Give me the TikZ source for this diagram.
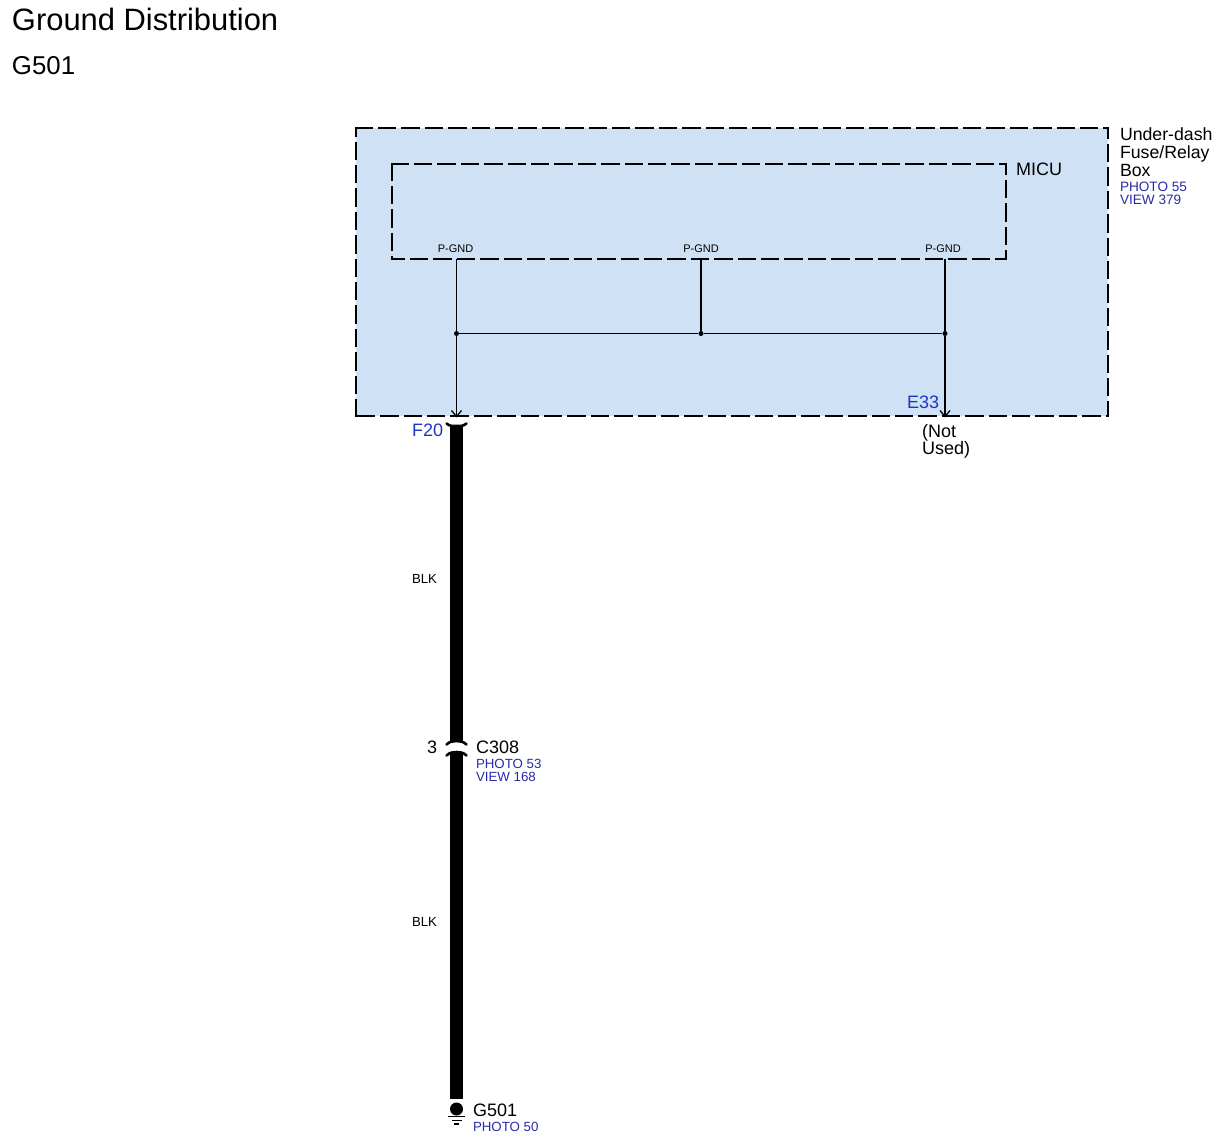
\documentclass[tikz,border=0pt]{standalone}
\usepackage{fontspec}
\setmainfont{Liberation Sans}
\definecolor{boxfill}{HTML}{CFE2F5}
\definecolor{photoblue}{HTML}{2A2AA8}
\definecolor{pinblue}{HTML}{1F35C0}
\newcommand{\fsz}[1]{\fontsize{#1}{#1}\selectfont}
\tikzset{
  dashbox/.style={draw=black,line width=2.8pt,dash pattern=on 18.4pt off 5pt,shorten <=-1.4pt,shorten >=-1.4pt},
  wire/.style={draw=black,line width=1.3pt},
  thickwire/.style={draw=black,line width=13pt},
  lbl/.style={inner sep=0pt,outer sep=0pt,anchor=base west,align=left},
  captxt/.style={lbl,font=\fsz{17.7}},
  photo/.style={lbl,font=\fsz{13.3},text=photoblue},
  pgnd/.style={inner sep=0pt,anchor=base,font=\fsz{11}},
  blk/.style={inner sep=0pt,anchor=base,font=\fsz{13.2}},
  pintxt/.style={lbl,font=\fsz{18},text=pinblue},
  dark/.style={lbl,font=\fsz{18}},
  joint/.style={circle,fill=black,inner sep=0pt,minimum size=5pt},
  arrowtip/.style={draw=black,line width=1.3pt},
  conn/.style={draw=black,line width=2.6pt,line cap=round}
}
\begin{document}
\begin{tikzpicture}[x=1pt,y=-1pt]
\useasboundingbox (0,0) rectangle (1222,1143);
% titles
\node[lbl,font=\fsz{30.9}] (title) at (12,30) {Ground Distribution};
\node[lbl,font=\fsz{25.8}] (sub) at (12,74) {G501};
% boxes
\coordinate (otl) at (356,128);
\coordinate (otr) at (1108,128);
\coordinate (obl) at (356,416);
\coordinate (obr) at (1108,416);
\coordinate (itl) at (392,164);
\coordinate (itr) at (1006,164);
\coordinate (ibl) at (392,259);
\coordinate (ibr) at (1006,259);
\fill[boxfill] (otl) rectangle (obr);
\draw[dashbox] (otl) -- (otr);
\draw[dashbox,dash phase=6] (otr) -- (obr);
\draw[dashbox,dash phase=21.2] (obl) -- (obr);
\draw[dashbox] (obl) -- (otl);
\draw[dashbox] (itl) -- (itr);
\draw[dashbox,dash phase=6] (itr) -- (ibr);
\draw[dashbox,dash phase=4] (ibl) -- (ibr);
\draw[dashbox] (itl) -- (ibl);
% box labels
\node[dark] (micu) at (1016,175) {MICU};
\node[captxt] (ub1) at (1120,140) {Under-dash};
\node[captxt] (ub2) at (1120,158) {Fuse/Relay};
\node[captxt] (ub3) at (1120,176) {Box};
\node[photo,font=\fsz{13.6}] (ub4) at (1120,191) {PHOTO 55};
\node[photo,font=\fsz{13.6}] (ub5) at (1120,204) {VIEW 379};
% pins
\node[pgnd] (pg1) at (455.5,252) {P-GND};
\node[pgnd] (pg2) at (701,252) {P-GND};
\node[pgnd] (pg3) at (943,252) {P-GND};
\coordinate (t1) at (456.5,259);
\coordinate (t2) at (701,259);
\coordinate (t3) at (945,259);
\node[joint] (j1) at (456.5,333.5) {};
\node[joint] (j2) at (701,333.5) {};
\node[joint] (j3) at (945,333.5) {};
\coordinate (e1) at (456.5,416.5);
\coordinate (e3) at (945,416.5);
\draw[wire] (t1) -- (j1) -- (e1);
\draw[wire] (t2) -- (j2);
\draw[wire] (t3) -- (j3) -- (e3);
\draw[wire] (j1) -- (j2) -- (j3);
\draw[arrowtip] ([shift={(-5,-6)}]e1) -- (e1) -- ([shift={(5,-6)}]e1);
\draw[arrowtip] ([shift={(-5,-6)}]e3) -- (e3) -- ([shift={(5,-6)}]e3);
\node[pintxt] (f20) at (412,436) {F20};
\node[pintxt] (e33) at (907,408) {E33};
\node[dark] (nu1) at (922,437) {(Not};
\node[dark] (nu2) at (922,454) {Used)};
% thick harness
\coordinate (h0) at (456.5,426);
\coordinate (c1) at (456.5,741);
\coordinate (c2) at (456.5,752);
\coordinate (h1) at (456.5,1099);
\draw[thickwire] (h0) -- (c1);
\draw[thickwire] (c2) -- (h1);
\draw[conn] ([shift={(-10,-2.5)}]h0) .. controls ([shift={(-7,0)}]h0) and ([shift={(-3.5,0.5)}]h0) .. (h0) .. controls ([shift={(3.5,0.5)}]h0) and ([shift={(7,0)}]h0) .. ([shift={(10,-2.5)}]h0);
\draw[conn] ([shift={(-10,3.5)}]c1) .. controls ([shift={(-7,0.5)}]c1) and ([shift={(-3.5,0)}]c1) .. (c1) .. controls ([shift={(3.5,0)}]c1) and ([shift={(7,0.5)}]c1) .. ([shift={(10,3.5)}]c1);
\draw[conn] ([shift={(-10,3.5)}]c2) .. controls ([shift={(-7,0.5)}]c2) and ([shift={(-3.5,0)}]c2) .. (c2) .. controls ([shift={(3.5,0)}]c2) and ([shift={(7,0.5)}]c2) .. ([shift={(10,3.5)}]c2);
\node[blk] (b1) at (424.5,583) {BLK};
\node[blk] (b2) at (424.5,926) {BLK};
\node[dark] (three) at (427,753) {3};
\node[dark] (c308) at (476,753) {C308};
\node[photo] (c3p) at (476,768) {PHOTO 53};
\node[photo] (c3v) at (476,781) {VIEW 168};
% ground
\node[circle,fill=black,inner sep=0pt,minimum size=13pt] (gd) at (456.5,1109) {};
\coordinate (gt) at (456.5,1116.5);
\draw[draw=black,line width=1.6pt] ([xshift=-8.5]gt) -- ([xshift=8.5]gt);
\draw[draw=black,line width=1.5pt] ([shift={(-5,4)}]gt) -- ([shift={(5,4)}]gt);
\draw[draw=black,line width=1.4pt] ([shift={(-2.5,7.5)}]gt) -- ([shift={(2.5,7.5)}]gt);
\node[dark] (g501) at (473,1116) {G501};
\node[photo] (g5p) at (473,1131) {PHOTO 50};
\end{tikzpicture}
\end{document}
